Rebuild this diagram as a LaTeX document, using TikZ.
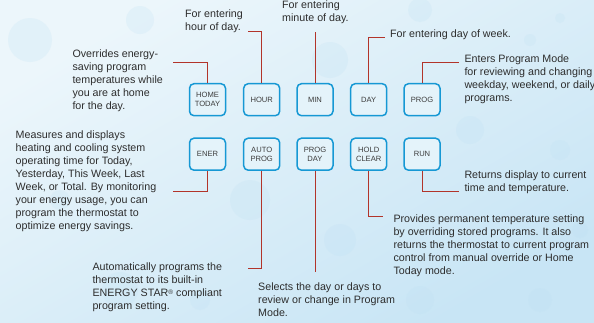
\documentclass[tikz,border=0pt]{standalone}
\usepackage{fontspec}
\setmainfont{Liberation Sans}
\definecolor{bgA}{RGB}{236,246,251}
\definecolor{bgB}{RGB}{200,229,245}
\definecolor{bubble}{RGB}{190,224,243}
\definecolor{btnborder}{RGB}{22,152,212}
\definecolor{btnfill}{RGB}{228,243,250}
\definecolor{leadred}{RGB}{178,52,42}
\definecolor{txt}{RGB}{45,45,45}
\definecolor{btntxt}{RGB}{60,60,60}
\tikzset{
  btn/.style={draw=btnborder, line width=1.5pt, fill=btnfill, rounded corners=4.5pt,
    minimum width=36pt, minimum height=32pt, inner sep=0pt, align=center,
    text=btntxt, font=\fontsize{7.6}{9.3}\selectfont},
  lead/.style={draw=leadred, line width=0.9pt},
  desc/.style={anchor=north west, inner sep=0pt, align=left, text=txt,
    font=\fontsize{10.7}{13}\selectfont},
}
\begin{document}
\begin{tikzpicture}[x=1pt,y=-1pt]
\useasboundingbox (0,0) rectangle (594,322);
\shade[top color=bgA, bottom color=bgB, shading angle=30] (0,0) rectangle (594,322);
\begin{scope}
\clip (0,0) rectangle (594,322);
\foreach \bx/\by/\br in {30/40/22, 140/20/14, 330/60/18, 420/10/12, 560/18/5, 530/40/6, 250/200/20, 340/240/16, 470/130/14, 560/150/10, 120/290/18, 540/300/12, 60/200/10, 420/300/14, 200/300/10, 580/230/8}
  \fill[bubble, opacity=0.22] (\bx,\by) circle (\br);
\end{scope}

% buttons
\node[btn] (home)    at (207.5,99.7) {HOME\\TODAY};
\node[btn] (hour)    at (261.7,99.7) {HOUR};
\node[btn] (min)     at (315,99.7)   {MIN};
\node[btn] (day)     at (368.7,99.7) {DAY};
\node[btn] (prog)    at (422,99.7)   {PROG};
\node[btn] (ener)    at (207.5,154.2) {ENER};
\node[btn] (auto)    at (261.7,154.2) {AUTO\\PROG};
\node[btn] (progday) at (315,154.2)   {PROG\\DAY};
\node[btn] (hold)    at (368.7,154.2) {HOLD\\CLEAR};
\node[btn] (run)     at (422,154.2)   {RUN};

% leader end points
\coordinate (c1) at (173,62);
\coordinate (c2) at (248,31);
\coordinate (c3) at (315,31.7);
\coordinate (c4) at (385,37.7);
\coordinate (c5) at (459,62.7);
\coordinate (c6) at (173,191.7);
\coordinate (c7) at (248,268.3);
\coordinate (c8) at (315,271.7);
\coordinate (c9) at (383.3,216.7);
\coordinate (c10) at (459.3,191.7);

\draw[lead] (home.north) |- (c1);
\draw[lead] (hour.north) |- (c2);
\draw[lead] (min.north) -- (c3);
\draw[lead] (day.north) |- (c4);
\draw[lead] (prog.north) |- (c5);
\draw[lead] (ener.south) |- (c6);
\draw[lead] (auto.south) |- (c7);
\draw[lead] (progday.south) -- (c8);
\draw[lead] (hold.south) |- (c9);
\draw[lead] (run.south) |- (c10);

% descriptions
\node[desc] (t1) at (72.3,49.5) {Overrides energy-\\saving program\\temperatures while\\you are at home\\for the day.};
\node[desc] (t2) at (185,9.3) {For entering\\hour of day.};
\node[desc] (t3) at (282,1) {For entering\\minute of day.};
\node[desc] (t4) at (390,30) {For entering day of week.};
\node[desc] (t5) at (464.3,54.3) {Enters Program Mode\\for reviewing and changing\\weekday, weekend, or daily\\programs.};
\node[desc] (t6) at (15.5,131) {Measures and displays\\heating and cooling system\\operating time for Today,\\Yesterday, This Week, Last\\Week, or Total. By monitoring\\your energy usage, you can\\program the thermostat to\\optimize energy savings.};
\node[desc] (t7) at (92.3,262.7) {Automatically programs the\\thermostat to its built-in\\ENERGY STAR{\fontsize{6.5}{6.5}\selectfont\raisebox{1.8pt}{®}} compliant\\program setting.};
\node[desc] (t8) at (258,282.3) {Selects the day or days to\\review or change in Program\\Mode.};
\node[desc] (t9) at (393.3,214.3) {Provides permanent temperature setting\\by overriding stored programs. It also\\returns the thermostat to current program\\control from manual override or Home\\Today mode.};
\node[desc] (t10) at (464.3,171) {Returns display to current\\time and temperature.};
\end{tikzpicture}
\end{document}
